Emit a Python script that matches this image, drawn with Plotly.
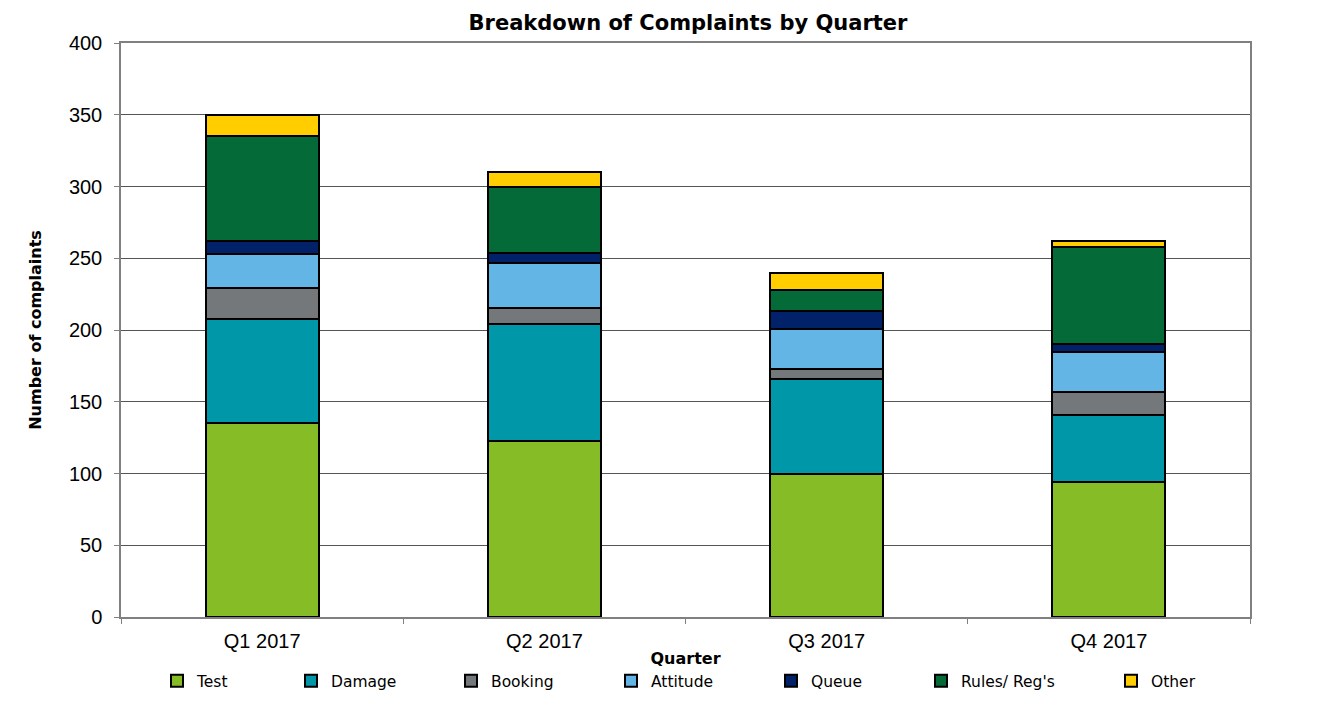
import plotly.graph_objects as go

quarters = ["Q1 2017", "Q2 2017", "Q3 2017", "Q4 2017"]
test = [135, 123, 100, 94]
damage = [73, 81, 66, 47]
booking = [21, 11, 7, 16]
attitude = [24, 32, 28, 28]
queue = [9, 7, 12, 5]
rules = [73, 46, 15, 68]
other = [15, 10, 12, 4]

series = [
    ("Test", test, "#86BC25"),
    ("Damage", damage, "#0097A9"),
    ("Booking", booking, "#75787B"),
    ("Attitude", attitude, "#62B5E5"),
    ("Queue", queue, "#012169"),
    ("Rules/ Reg's", rules, "#046A38"),
    ("Other", other, "#FFCD00"),
]

# legend text start positions (screen pixels)
legend_text_px = [193, 327, 487, 647, 807, 957, 1147]

BODY = 8  # default page body margin
W, H = 1322, 709
ML, MR, MT, MB = 121 - BODY, 72 + BODY, 43 - BODY, 92 + BODY
PW = W - ML - MR
PH = H - MT - MB

fig = go.Figure()
layout_legends = {}
for i, (name, vals, col) in enumerate(series):
    lname = "legend" if i == 0 else f"legend{i+1}"
    fig.add_trace(go.Bar(
        x=quarters, y=vals, name=name, legend=lname,
        marker=dict(color=col, line=dict(color="black", width=2)),
    ))
    lx = legend_text_px[i] - 36 - BODY
    layout_legends[lname] = dict(
        x=(lx - ML) / PW, xanchor="left",
        y=-0.082, yanchor="top",
        orientation="h", bgcolor="rgba(0,0,0,0)",
        font=dict(family="DejaVu Sans", size=15.5, color="black"),
        itemwidth=30,
    )

fig.update_layout(
    barmode="stack",
    bargap=0.6,
    width=W, height=H,
    margin=dict(l=ML, r=MR, t=MT, b=MB, autoexpand=False),
    paper_bgcolor="white", plot_bgcolor="white",
    title=dict(text="<b>Breakdown of Complaints by Quarter</b>",
               x=(688 - BODY) / W, xanchor="center", y=1 - (23 - BODY) / H, yanchor="middle",
               font=dict(family="DejaVu Sans", size=21, color="black")),
    showlegend=True,
    **layout_legends,
)
fig.update_xaxes(
    showline=True, linecolor="#808080", linewidth=1.5, mirror=True,
    ticks="outside", tickson="boundaries", ticklen=5, tickcolor="#808080",
    ticklabelstandoff=5,
    tickfont=dict(family="Liberation Sans", size=20, color="black"),
    title=dict(text="<b>Quarter</b>", standoff=2,
               font=dict(family="DejaVu Sans", size=16, color="black")),
)
fig.update_yaxes(
    range=[0, 400], dtick=50,
    showline=True, linecolor="#808080", linewidth=1.5, mirror=True,
    ticks="outside", ticklen=5, tickcolor="#808080",
    ticklabelstandoff=8,
    showgrid=True, gridcolor="#555555", gridwidth=1,
    tickfont=dict(family="Liberation Sans", size=20, color="black"),
    title=dict(text="<b>Number of complaints</b>", standoff=23,
               font=dict(family="DejaVu Sans", size=16, color="black")),
)

fig.write_html("out.html")
